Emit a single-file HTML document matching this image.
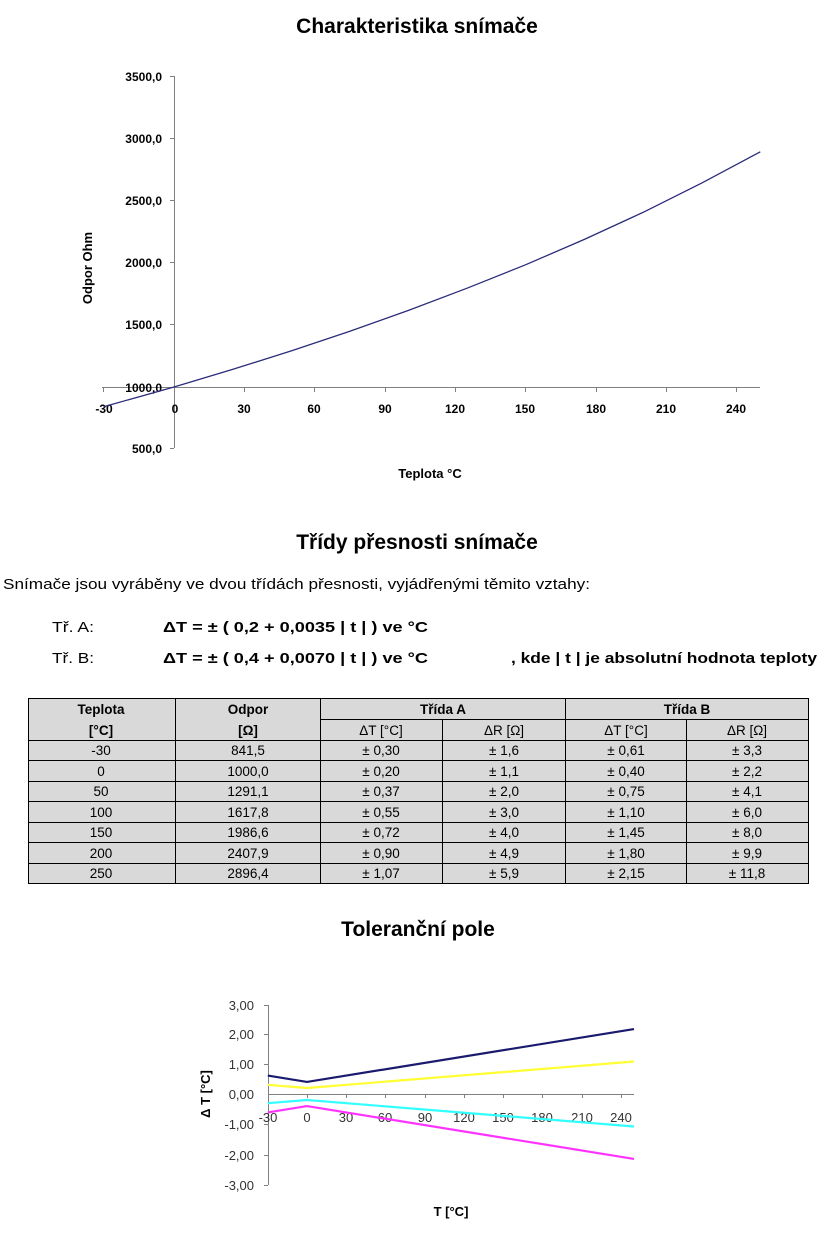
<!DOCTYPE html>
<html><head><meta charset="utf-8"><style>
body{margin:0;background:#fff;width:825px;height:1234px;overflow:hidden;font-family:"Liberation Sans",Arial,sans-serif}
</style></head><body>
<svg width="825" height="1234" viewBox="0 0 825 1234" xmlns="http://www.w3.org/2000/svg" font-family="Liberation Sans, Arial, sans-serif">
<text x="417" y="33" font-size="21" font-weight="bold" text-anchor="middle">Charakteristika snímače</text>
<g stroke="#808080" stroke-width="1" fill="none">
<line x1="174.5" y1="76" x2="174.5" y2="448"/>
<line x1="102" y1="387.5" x2="760" y2="387.5"/>
</g>
<g stroke="#808080">
<line x1="170" y1="76.5" x2="174" y2="76.5"/><line x1="170" y1="138.5" x2="174" y2="138.5"/><line x1="170" y1="200.5" x2="174" y2="200.5"/><line x1="170" y1="262.5" x2="174" y2="262.5"/><line x1="170" y1="324.5" x2="174" y2="324.5"/><line x1="170" y1="448.5" x2="174" y2="448.5"/>
<line x1="103.5" y1="387" x2="103.5" y2="392"/><line x1="244.5" y1="387" x2="244.5" y2="392"/><line x1="314.5" y1="387" x2="314.5" y2="392"/><line x1="385.5" y1="387" x2="385.5" y2="392"/><line x1="455.5" y1="387" x2="455.5" y2="392"/><line x1="525.5" y1="387" x2="525.5" y2="392"/><line x1="596.5" y1="387" x2="596.5" y2="392"/><line x1="666.5" y1="387" x2="666.5" y2="392"/><line x1="736.5" y1="387" x2="736.5" y2="392"/>
</g>
<g font-size="12" font-weight="bold" text-anchor="end">
<text x="162" y="81">3500,0</text><text x="162" y="143">3000,0</text><text x="162" y="205">2500,0</text><text x="162" y="267">2000,0</text><text x="162" y="329">1500,0</text><text x="162" y="392">1000,0</text><text x="162" y="453">500,0</text>
</g>
<g font-size="12" font-weight="bold" text-anchor="middle">
<text x="104" y="413">-30</text><text x="175" y="413">0</text><text x="244" y="413">30</text><text x="314" y="413">60</text><text x="385" y="413">90</text><text x="455" y="413">120</text><text x="525" y="413">150</text><text x="596" y="413">180</text><text x="666" y="413">210</text><text x="736" y="413">240</text>
</g>
<text x="430" y="478" font-size="13" font-weight="bold" text-anchor="middle">Teplota  °C</text>
<text transform="translate(92,268) rotate(-90)" font-size="13" font-weight="bold" text-anchor="middle">Odpor  Ohm</text>
<polyline fill="none" stroke="#2b2b7a" stroke-width="1.3" points="103.6,406.7 174,387 232.6,369.4 291.3,350.9 349.9,331.2 408.5,310.4 467.1,288.2 525.8,264.7 584.4,239.4 643,212.4 701.7,183.1 760.3,151.8"/>

<text x="417" y="549" font-size="21" font-weight="bold" text-anchor="middle">Třídy přesnosti snímače</text>
<g font-size="15">
<text x="3" y="589" textLength="587" lengthAdjust="spacingAndGlyphs">Snímače jsou vyráběny ve dvou třídách přesnosti, vyjádřenými těmito vztahy:</text>
<text x="52" y="632" textLength="42" lengthAdjust="spacingAndGlyphs">Tř. A:</text>
<text x="52" y="663" textLength="42" lengthAdjust="spacingAndGlyphs">Tř. B:</text>
<text x="163" y="632" font-weight="bold" textLength="265" lengthAdjust="spacingAndGlyphs">ΔT = ± ( 0,2 + 0,0035 | t | )  ve °C</text>
<text x="163" y="663" font-weight="bold" textLength="265" lengthAdjust="spacingAndGlyphs">ΔT = ± ( 0,4 + 0,0070 | t | )  ve °C</text>
<text x="511" y="663" font-weight="bold" textLength="306" lengthAdjust="spacingAndGlyphs">, kde | t | je absolutní hodnota teploty</text>
</g>
<rect x="28" y="698" width="780" height="185" fill="#d9d9d9"/>
<g stroke="#000" stroke-width="1" fill="none">
<rect x="28.5" y="698.5" width="780" height="185"/>
<line x1="320" y1="719.5" x2="808" y2="719.5"/>
<line x1="28" y1="740.5" x2="808" y2="740.5"/>
<line x1="28" y1="760.5" x2="808" y2="760.5"/>
<line x1="28" y1="781.5" x2="808" y2="781.5"/>
<line x1="28" y1="801.5" x2="808" y2="801.5"/>
<line x1="28" y1="822.5" x2="808" y2="822.5"/>
<line x1="28" y1="842.5" x2="808" y2="842.5"/>
<line x1="28" y1="863.5" x2="808" y2="863.5"/>
<line x1="175.5" y1="698" x2="175.5" y2="883"/>
<line x1="320.5" y1="698" x2="320.5" y2="883"/>
<line x1="442.5" y1="719" x2="442.5" y2="883"/>
<line x1="565.5" y1="698" x2="565.5" y2="883"/>
<line x1="686.5" y1="719" x2="686.5" y2="883"/>
</g>
<g font-size="13.5" text-anchor="middle">
<g font-weight="bold">
<text x="101" y="714">Teplota</text><text x="248" y="714">Odpor</text><text x="443" y="714">Třída A</text><text x="687" y="714">Třída B</text>
<text x="101" y="735">[°C]</text><text x="248" y="735">[Ω]</text>
</g>
<text x="381" y="735">ΔT [°C]</text><text x="504" y="735">ΔR [Ω]</text><text x="626" y="735">ΔT [°C]</text><text x="747" y="735">ΔR [Ω]</text>
<text x="101" y="755">-30</text><text x="248" y="755">841,5</text><text x="381" y="755">± 0,30</text><text x="504" y="755">± 1,6</text><text x="626" y="755">± 0,61</text><text x="747" y="755">± 3,3</text>
<text x="101" y="776">0</text><text x="248" y="776">1000,0</text><text x="381" y="776">± 0,20</text><text x="504" y="776">± 1,1</text><text x="626" y="776">± 0,40</text><text x="747" y="776">± 2,2</text>
<text x="101" y="796">50</text><text x="248" y="796">1291,1</text><text x="381" y="796">± 0,37</text><text x="504" y="796">± 2,0</text><text x="626" y="796">± 0,75</text><text x="747" y="796">± 4,1</text>
<text x="101" y="817">100</text><text x="248" y="817">1617,8</text><text x="381" y="817">± 0,55</text><text x="504" y="817">± 3,0</text><text x="626" y="817">± 1,10</text><text x="747" y="817">± 6,0</text>
<text x="101" y="837">150</text><text x="248" y="837">1986,6</text><text x="381" y="837">± 0,72</text><text x="504" y="837">± 4,0</text><text x="626" y="837">± 1,45</text><text x="747" y="837">± 8,0</text>
<text x="101" y="858">200</text><text x="248" y="858">2407,9</text><text x="381" y="858">± 0,90</text><text x="504" y="858">± 4,9</text><text x="626" y="858">± 1,80</text><text x="747" y="858">± 9,9</text>
<text x="101" y="878">250</text><text x="248" y="878">2896,4</text><text x="381" y="878">± 1,07</text><text x="504" y="878">± 5,9</text><text x="626" y="878">± 2,15</text><text x="747" y="878">± 11,8</text>
</g>

<text x="418" y="936" font-size="21" font-weight="bold" text-anchor="middle">Toleranční pole</text>
<g stroke="#808080" stroke-width="1">
<line x1="268.5" y1="1005" x2="268.5" y2="1185"/>
<line x1="268" y1="1094.5" x2="634" y2="1094.5"/>
<line x1="264" y1="1005.5" x2="268" y2="1005.5"/><line x1="264" y1="1034.5" x2="268" y2="1034.5"/><line x1="264" y1="1064.5" x2="268" y2="1064.5"/><line x1="264" y1="1124.5" x2="268" y2="1124.5"/><line x1="264" y1="1155.5" x2="268" y2="1155.5"/><line x1="264" y1="1185.5" x2="268" y2="1185.5"/>
<line x1="307.5" y1="1094" x2="307.5" y2="1098"/><line x1="346.5" y1="1094" x2="346.5" y2="1098"/><line x1="385.5" y1="1094" x2="385.5" y2="1098"/><line x1="425.5" y1="1094" x2="425.5" y2="1098"/><line x1="464.5" y1="1094" x2="464.5" y2="1098"/><line x1="503.5" y1="1094" x2="503.5" y2="1098"/><line x1="542.5" y1="1094" x2="542.5" y2="1098"/><line x1="582.5" y1="1094" x2="582.5" y2="1098"/><line x1="621.5" y1="1094" x2="621.5" y2="1098"/>
</g>
<g font-size="13" fill="#333" text-anchor="end">
<text x="254" y="1010">3,00</text><text x="254" y="1039">2,00</text><text x="254" y="1069">1,00</text><text x="254" y="1099">0,00</text><text x="254" y="1129">-1,00</text><text x="254" y="1160">-2,00</text><text x="254" y="1190">-3,00</text>
</g>
<g font-size="13" fill="#333" text-anchor="middle">
<text x="268" y="1122">-30</text><text x="307" y="1122">0</text><text x="346" y="1122">30</text><text x="385" y="1122">60</text><text x="425" y="1122">90</text><text x="464" y="1122">120</text><text x="503" y="1122">150</text><text x="542" y="1122">180</text><text x="582" y="1122">210</text><text x="621" y="1122">240</text>
</g>
<text x="451" y="1216" font-size="13" font-weight="bold" text-anchor="middle">T [°C]</text>
<text transform="translate(210,1094) rotate(-90)" font-size="13" font-weight="bold" text-anchor="middle">Δ T [°C]</text>
<g fill="none" stroke-width="2.2">
<polyline stroke="#1a1a6e" points="267.8,1075.6 307,1081.9 634,1029.1"/>
<polyline stroke="#ffff33" points="267.8,1084.8 307,1088 634,1061.5"/>
<polyline stroke="#33ffff" points="267.8,1103.2 307,1100 634,1126.5"/>
<polyline stroke="#ff33ff" points="267.8,1112.4 307,1106.1 634,1158.9"/>
</g>
</svg>
</body></html>
